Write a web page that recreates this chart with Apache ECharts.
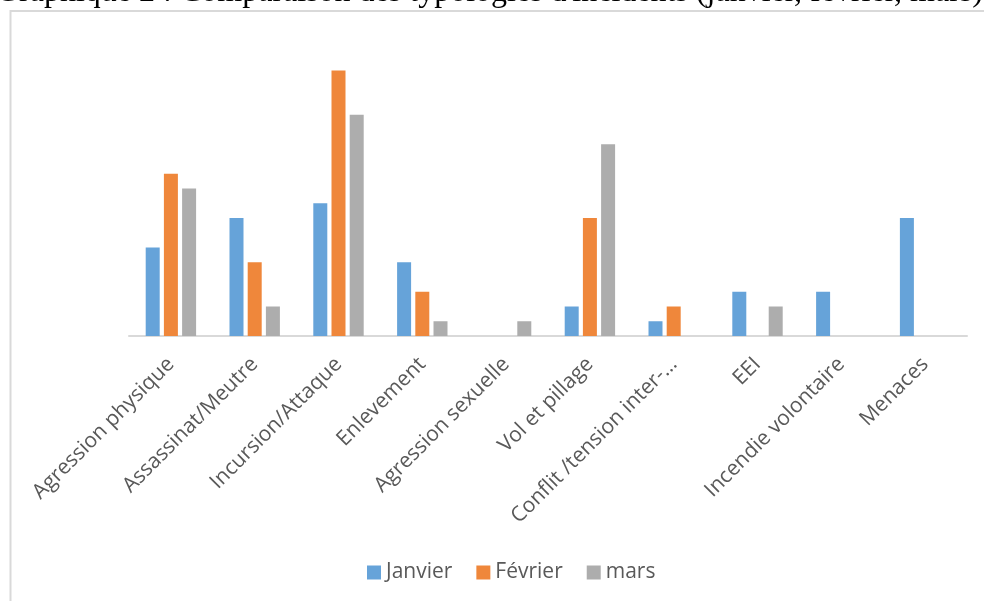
<!DOCTYPE html>
<html>
<head>
<meta charset="utf-8">
<script src="https://cdn.jsdelivr.net/npm/echarts@6/dist/echarts.min.js"></script>
<style>
html,body{margin:0;padding:0;background:#fff;}
#chart{width:984px;height:601px;}
</style>
</head>
<body>
<div id="chart"></div>
<script>
const categories = ["Agression physique","Assassinat/Meutre","Incursion/Attaque","Enlevement","Agression sexuelle","Vol et pillage","Conflit /tension inter-…","EEI","Incendie volontaire","Menaces"];
const janvier = [6, 8, 9, 5, 0, 2, 1, 3, 3, 8];
const fevrier = [11, 5, 18, 3, 0, 8, 2, 0, 0, 0];
const mars = [10, 2, 15, 1, 1, 13, 0, 2, 0, 0];
const seriesNames = ["Janvier","Février","mars"];
const titleText = "Graphique 2 : Comparaison des typologies d'incidents (janvier, février, mars)";

const chart = echarts.init(document.getElementById('chart'), null, {renderer:'canvas'});
const font = "'Open Sans', sans-serif";
const mk = (name, data, color) => ({
  name, type:'bar', data, barWidth:14, barGap:'30%',
  itemStyle:{color}, emphasis:{disabled:true}
});
chart.setOption({
  animation:false,
  color:['#66a3d9','#ef873b','#adadad'],
  graphic:[
    {type:'rect', shape:{x:10.5, y:11, width:1100, height:800}, style:{fill:'none', stroke:'#d9d9d9', lineWidth:2}, z:-1},
    {type:'text', x:-4, y:9, style:{text:titleText, font:"32px 'Liberation Serif', serif", fill:'#000', textAlign:'left', textVerticalAlign:'bottom'}}
  ],
  grid:{left:129, right:17, top:41, bottom:265},
  legend:{
    data:seriesNames, left:362, top:557, itemWidth:14, itemHeight:14, itemGap:24, icon:'rect',
    textStyle:{fontSize:21, color:'#595959', fontFamily:font}
  },
  xAxis:{
    type:'category', data:categories,
    axisLine:{lineStyle:{color:'#d9d9d9', width:2}},
    axisTick:{show:false},
    axisLabel:{rotate:45, interval:0, margin:25, fontSize:21, color:'#595959', fontFamily:font}
  },
  yAxis:{type:'value', min:0, max:20, show:false, splitLine:{show:false}},
  series:[
    mk(seriesNames[0], janvier, '#66a3d9'),
    mk(seriesNames[1], fevrier, '#ef873b'),
    mk(seriesNames[2], mars, '#adadad')
  ]
});
</script>
</body>
</html>
